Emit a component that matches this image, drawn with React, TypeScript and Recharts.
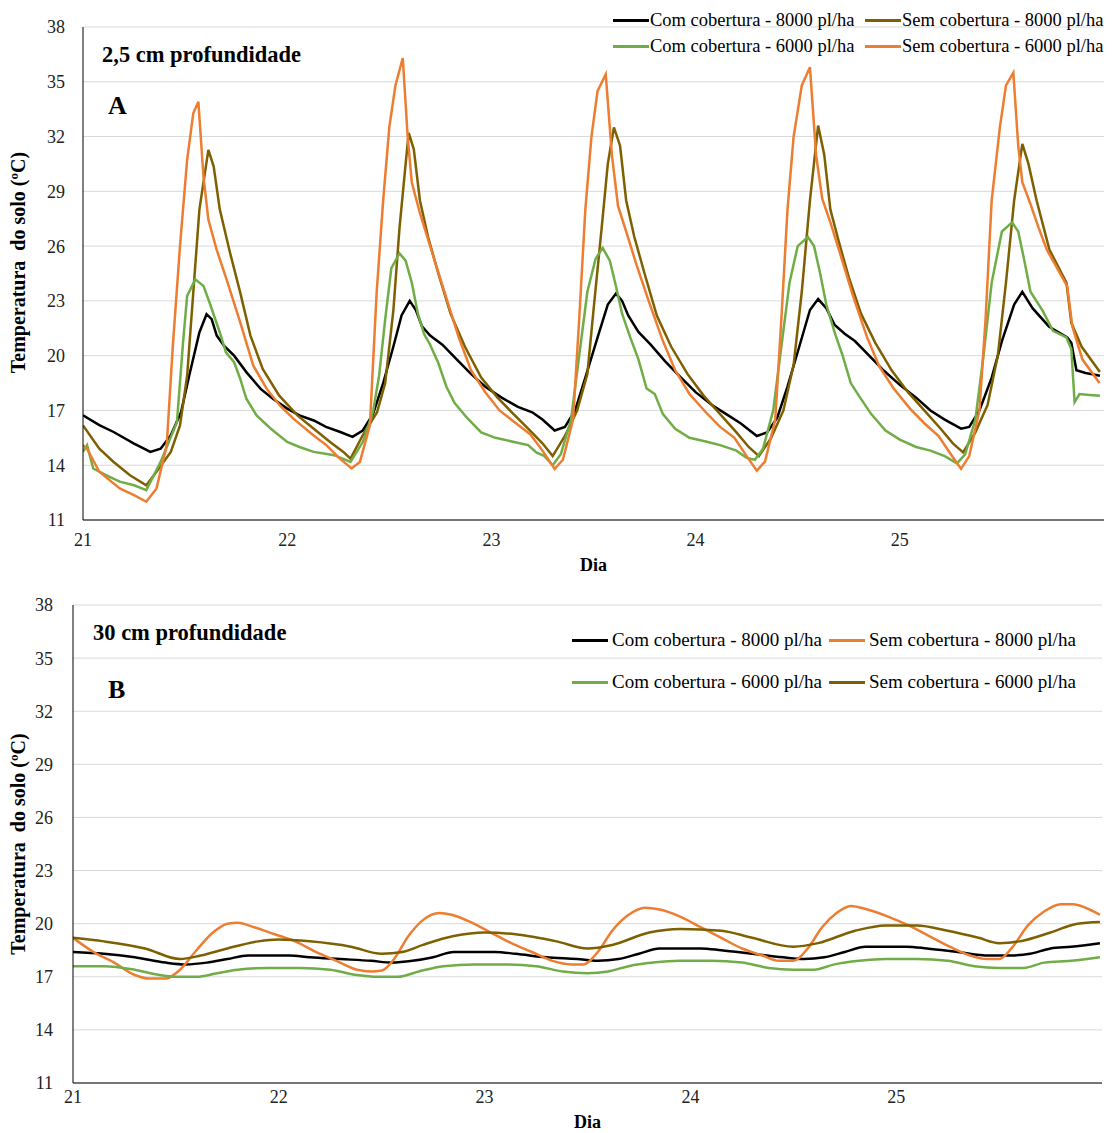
import React from 'react';
import { LineChart, Line, XAxis, YAxis, CartesianGrid, Legend } from 'recharts';

const FONT = '"Liberation Serif", "Times New Roman", serif';
const BLACK = '#000000';
const OLIVE = '#7f6000';
const GREEN = '#70ad47';
const ORANGE = '#ed7d31';

const dayTicks = [21, 22, 23, 24, 25];
const tempTicks = [11, 14, 17, 20, 23, 26, 29, 32, 35, 38];

const seriesNames = [
  'Com cobertura - 8000 pl/ha',
  'Sem cobertura - 8000 pl/ha',
  'Com cobertura - 6000 pl/ha',
  'Sem cobertura - 6000 pl/ha',
];

// ---------- Panel A : 2,5 cm depth  [day, °C] ----------
const topCom8000: [number, number][] = [
  [21.0,16.73],[21.08,16.2],[21.15,15.82],[21.25,15.18],[21.33,14.73],[21.38,14.9],[21.43,15.64],[21.48,16.9],[21.52,18.9],[21.57,21.27],[21.605,22.27],[21.63,22.0],[21.655,21.1],[21.69,20.55],[21.74,20.0],[21.8,19.1],[21.87,18.18],[21.93,17.64],[22.0,17.1],[22.06,16.73],[22.13,16.45],[22.19,16.1],[22.26,15.82],[22.32,15.55],
  [22.37,15.9],[22.42,16.8],[22.47,18.5],[22.52,20.5],[22.56,22.2],[22.6,23.0],[22.63,22.5],[22.66,21.6],[22.7,21.1],[22.76,20.6],[22.83,19.8],[22.9,19.0],[22.97,18.3],[23.05,17.7],[23.13,17.2],[23.2,16.9],[23.25,16.5],[23.31,15.9],
  [23.36,16.1],[23.41,17.0],[23.46,18.8],[23.52,21.0],[23.57,22.8],[23.61,23.4],[23.64,23.0],[23.67,22.2],[23.72,21.3],[23.78,20.6],[23.85,19.7],[23.92,18.9],[24.0,18.0],[24.08,17.3],[24.15,16.8],[24.22,16.3],[24.3,15.6],
  [24.35,15.8],[24.4,16.6],[24.45,18.3],[24.5,20.2],[24.56,22.5],[24.6,23.1],[24.64,22.6],[24.68,21.7],[24.73,21.2],[24.78,20.8],[24.85,20.0],[24.92,19.2],[25.0,18.4],[25.08,17.7],[25.15,17.0],[25.22,16.5],[25.3,16.0],
  [25.34,16.1],[25.39,17.0],[25.45,18.8],[25.5,20.8],[25.56,22.8],[25.6,23.5],[25.65,22.6],[25.73,21.6],[25.82,21.0],[25.84,20.7],[25.865,19.2],[25.91,19.05],[25.98,18.9],
];
const topSem8000: [number, number][] = [
  [21.0,16.18],[21.08,14.9],[21.15,14.18],[21.23,13.45],[21.31,12.9],[21.36,13.64],[21.43,14.73],[21.475,16.18],[21.51,18.9],[21.54,23.45],[21.57,28.0],[21.614,31.27],[21.64,30.36],[21.67,28.0],[21.72,25.64],[21.77,23.45],[21.82,21.1],[21.88,19.27],[21.96,17.82],[22.05,16.73],[22.13,16.0],[22.21,15.27],[22.275,14.73],[22.31,14.36],
  [22.37,15.64],[22.44,16.9],[22.48,18.5],[22.52,22.5],[22.55,27.0],[22.58,30.5],[22.595,32.2],[22.62,31.3],[22.65,28.5],[22.69,26.5],[22.74,24.5],[22.8,22.3],[22.87,20.5],[22.95,18.8],[23.03,17.7],[23.1,16.9],[23.18,16.0],[23.25,15.2],[23.3,14.5],
  [23.36,15.6],[23.42,17.0],[23.47,19.0],[23.5,22.5],[23.54,27.0],[23.57,30.5],[23.6,32.5],[23.63,31.5],[23.66,28.5],[23.7,26.5],[23.75,24.5],[23.81,22.2],[23.88,20.5],[23.96,19.0],[24.04,17.8],[24.12,16.8],[24.2,15.8],[24.26,15.0],[24.31,14.5],
  [24.37,15.5],[24.43,17.0],[24.48,19.5],[24.52,23.5],[24.56,28.5],[24.6,32.6],[24.63,31.0],[24.66,28.0],[24.7,26.3],[24.75,24.3],[24.81,22.3],[24.88,20.7],[24.96,19.2],[25.04,18.0],[25.12,17.0],[25.2,16.0],[25.26,15.2],[25.31,14.7],
  [25.37,15.8],[25.43,17.3],[25.48,20.0],[25.52,24.0],[25.56,28.5],[25.6,31.6],[25.63,30.5],[25.67,28.5],[25.733,25.8],[25.816,24.0],[25.84,21.8],[25.89,20.5],[25.98,19.1],
];
const topCom6000: [number, number][] = [
  [21.0,14.73],[21.02,15.1],[21.05,13.82],[21.13,13.36],[21.18,13.1],[21.25,12.9],[21.31,12.64],[21.38,14.18],[21.46,16.36],[21.49,20.73],[21.51,23.27],[21.55,24.18],[21.59,23.82],[21.62,22.9],[21.67,21.27],[21.7,20.18],[21.74,19.64],[21.77,18.73],[21.8,17.64],[21.85,16.73],[21.92,16.0],[22.0,15.27],[22.06,15.0],[22.13,14.73],[22.23,14.55],[22.31,14.18],
  [22.37,15.27],[22.42,16.9],[22.45,18.9],[22.48,22.0],[22.51,24.8],[22.55,25.6],[22.58,25.2],[22.61,24.0],[22.64,22.3],[22.67,21.2],[22.7,20.6],[22.74,19.6],[22.78,18.3],[22.82,17.4],[22.88,16.6],[22.95,15.8],[23.02,15.5],[23.1,15.3],[23.18,15.1],[23.22,14.7],[23.26,14.5],[23.3,14.0],
  [23.34,14.6],[23.39,16.5],[23.43,20.0],[23.47,23.5],[23.51,25.3],[23.545,25.9],[23.58,25.2],[23.61,23.8],[23.64,22.3],[23.68,21.0],[23.72,19.8],[23.76,18.2],[23.8,17.9],[23.84,16.8],[23.9,16.0],[23.97,15.5],[24.05,15.3],[24.12,15.1],[24.2,14.8],[24.25,14.4],[24.29,14.3],
  [24.33,14.9],[24.38,17.0],[24.42,20.5],[24.46,24.0],[24.5,26.0],[24.55,26.5],[24.58,26.0],[24.61,24.5],[24.64,22.8],[24.68,21.3],[24.72,20.0],[24.76,18.5],[24.8,17.8],[24.86,16.8],[24.93,15.9],[25.0,15.4],[25.08,15.0],[25.15,14.8],[25.22,14.5],[25.28,14.1],
  [25.32,14.6],[25.37,16.5],[25.41,20.0],[25.45,24.0],[25.5,26.8],[25.55,27.3],[25.58,26.8],[25.61,25.2],[25.64,23.5],[25.7,22.45],[25.75,21.36],[25.816,21.0],[25.84,20.36],[25.856,17.45],[25.88,17.9],[25.93,17.85],[25.98,17.8],
];
const topSem6000: [number, number][] = [
  [21.0,15.09],[21.02,14.9],[21.08,13.64],[21.18,12.73],[21.25,12.36],[21.31,12.0],[21.36,12.73],[21.41,15.09],[21.44,20.55],[21.475,26.0],[21.51,30.73],[21.54,33.27],[21.565,33.9],[21.59,29.8],[21.614,27.45],[21.654,25.82],[21.703,24.18],[21.77,21.82],[21.834,19.45],[21.9,18.18],[21.964,17.27],[22.03,16.55],[22.128,15.64],[22.193,15.09],[22.258,14.36],[22.315,13.82],
  [22.356,14.18],[22.405,16.18],[22.438,23.45],[22.47,28.5],[22.5,32.5],[22.53,34.8],[22.566,36.3],[22.59,32.0],[22.61,29.5],[22.65,27.8],[22.7,26.0],[22.77,23.5],[22.84,21.0],[22.9,19.2],[22.97,18.0],[23.04,17.0],[23.12,16.3],[23.19,15.7],[23.25,14.8],[23.31,13.8],
  [23.35,14.3],[23.4,16.5],[23.43,22.0],[23.46,28.0],[23.49,32.0],[23.52,34.5],[23.56,35.4],[23.59,31.0],[23.62,28.2],[23.66,26.8],[23.71,25.0],[23.77,23.0],[23.84,20.8],[23.9,19.2],[23.97,17.9],[24.05,16.9],[24.12,16.1],[24.19,15.5],[24.25,14.5],[24.3,13.7],
  [24.34,14.2],[24.39,16.5],[24.42,22.0],[24.45,28.0],[24.48,32.0],[24.52,34.8],[24.56,35.8],[24.59,31.0],[24.62,28.6],[24.66,27.3],[24.71,25.5],[24.77,23.3],[24.84,21.0],[24.9,19.4],[24.97,18.2],[25.05,17.1],[25.12,16.3],[25.19,15.6],[25.25,14.6],[25.3,13.8],
  [25.34,14.5],[25.39,17.0],[25.42,22.0],[25.45,28.5],[25.49,32.5],[25.52,34.8],[25.556,35.5],[25.58,31.5],[25.6,29.5],[25.64,28.3],[25.68,27.0],[25.72,25.8],[25.78,24.6],[25.82,23.8],[25.845,21.6],[25.894,19.8],[25.978,18.5],
];

// ---------- Panel B : 30 cm depth  [day, °C] ----------
const botCom8000: [number, number][] = [
  [21.0,18.4],[21.15,18.3],[21.3,18.1],[21.45,17.8],[21.55,17.7],[21.65,17.8],[21.75,18.0],[21.85,18.2],[21.95,18.2],[22.05,18.2],[22.15,18.1],[22.3,18.0],[22.45,17.9],[22.55,17.8],[22.65,17.9],[22.75,18.1],[22.85,18.4],[22.95,18.4],[23.05,18.4],[23.15,18.3],[23.3,18.1],[23.45,18.0],[23.55,17.9],[23.65,18.0],[23.75,18.3],[23.85,18.6],[23.95,18.6],[24.05,18.6],[24.15,18.5],[24.3,18.3],[24.45,18.1],[24.55,18.0],[24.65,18.1],[24.75,18.4],[24.85,18.7],[24.95,18.7],[25.05,18.7],[25.15,18.6],[25.3,18.4],[25.45,18.2],[25.55,18.2],[25.65,18.3],[25.75,18.6],[25.85,18.7],[25.99,18.9],
];
const botSem8000: [number, number][] = [
  [21.0,19.2],[21.1,18.4],[21.2,17.8],[21.3,17.1],[21.37,16.9],[21.45,16.9],[21.52,17.4],[21.6,18.5],[21.68,19.5],[21.75,20.0],[21.8,20.05],[21.88,19.8],[21.98,19.4],[22.08,19.0],[22.18,18.4],[22.28,17.9],[22.38,17.4],[22.45,17.3],[22.5,17.35],[22.56,18.0],[22.63,19.3],[22.7,20.2],[22.78,20.6],[22.84,20.5],[22.93,20.1],[23.03,19.5],[23.13,18.9],[23.23,18.4],[23.33,17.9],[23.42,17.7],[23.48,17.7],[23.55,18.4],[23.62,19.6],[23.7,20.5],[23.78,20.9],[23.85,20.8],[23.95,20.4],[24.05,19.8],[24.15,19.2],[24.25,18.6],[24.35,18.2],[24.43,17.9],[24.5,17.9],[24.57,18.6],[24.64,19.8],[24.71,20.6],[24.78,21.0],[24.86,20.8],[24.96,20.4],[25.06,19.9],[25.16,19.3],[25.26,18.7],[25.36,18.2],[25.44,18.0],[25.5,18.0],[25.56,18.6],[25.64,19.9],[25.72,20.7],[25.8,21.1],[25.86,21.1],[25.92,20.9],[25.99,20.5],
];
const botCom6000: [number, number][] = [
  [21.0,17.6],[21.15,17.6],[21.3,17.4],[21.42,17.1],[21.5,17.0],[21.6,17.0],[21.7,17.2],[21.8,17.4],[21.95,17.5],[22.1,17.5],[22.25,17.4],[22.38,17.1],[22.48,17.0],[22.58,17.0],[22.68,17.3],[22.8,17.6],[22.95,17.7],[23.1,17.7],[23.25,17.6],[23.38,17.3],[23.5,17.2],[23.6,17.3],[23.7,17.6],[23.82,17.8],[23.95,17.9],[24.1,17.9],[24.25,17.8],[24.38,17.5],[24.5,17.4],[24.6,17.4],[24.7,17.7],[24.82,17.9],[24.95,18.0],[25.1,18.0],[25.25,17.9],[25.38,17.6],[25.5,17.5],[25.62,17.5],[25.72,17.8],[25.85,17.9],[25.99,18.1],
];
const botSem6000: [number, number][] = [
  [21.0,19.2],[21.15,19.0],[21.35,18.6],[21.52,18.0],[21.62,18.2],[21.75,18.6],[21.9,19.0],[22.0,19.1],[22.15,19.0],[22.35,18.7],[22.5,18.3],[22.6,18.4],[22.7,18.8],[22.85,19.3],[23.0,19.5],[23.15,19.4],[23.35,19.0],[23.5,18.6],[23.62,18.8],[23.8,19.5],[23.95,19.7],[24.15,19.6],[24.3,19.2],[24.5,18.7],[24.62,18.9],[24.8,19.6],[24.95,19.9],[25.1,19.9],[25.25,19.6],[25.4,19.2],[25.5,18.9],[25.6,19.0],[25.75,19.5],[25.88,20.0],[25.99,20.1],
];

const toPoints = (arr: [number, number][]) => arr.map(([t, v]) => ({ t, v }));

type Series = { name: string; color: string; data: [number, number][] };

function makeLegend(items: Series[], itemWidth: number, rowHeight: number, gap: number, fontSize: number) {
  return () => (
    <div style={{ display: 'flex', flexWrap: 'wrap', width: itemWidth * 2, fontFamily: FONT, fontSize, color: '#000' }}>
      {items.map((s, i) => (
        <div key={i} style={{ width: itemWidth, height: rowHeight, display: 'flex', alignItems: 'center', whiteSpace: 'nowrap' }}>
          <span style={{ display: 'inline-block', width: 36, height: 3, background: s.color, marginRight: gap }} />
          <span>{s.name}</span>
        </div>
      ))}
    </div>
  );
}

function yTitle(shift: number) {
  return (props: any) => {
    const vb = props.viewBox || { x: 0, y: 0, height: 0 };
    const cx = vb.x + 18;
    const cy = vb.y + vb.height / 2 + shift;
    return (
      <text x={cx} y={cy} transform={`rotate(-90 ${cx} ${cy})`} textAnchor="middle" dominantBaseline="central"
        style={{ fontFamily: FONT, fontSize: 20, fontWeight: 'bold', whiteSpace: 'pre' }} fill="#000">
        {'Temperatura  do solo (ºC)'}
      </text>
    );
  };
}

function xTitle(offsetFromBottom: number) {
  return (props: any) => {
    const vb = props.viewBox || { x: 0, y: 0, width: 0, height: 0 };
    return (
      <text x={vb.x + vb.width / 2} y={vb.y + vb.height - offsetFromBottom} textAnchor="middle"
        style={{ fontFamily: FONT, fontSize: 18, fontWeight: 'bold' }} fill="#000">Dia</text>
    );
  };
}

const tickStyle = { fontFamily: FONT, fontSize: 18, fill: '#222' };

type Panel = {
  top: number; height: number; yAxisWidth: number; xAxisHeight: number;
  marginTop: number; marginRight: number; xTickMargin: number; yTickMargin: number;
  xTitleOffset: number; yTitleShift: number; series: Series[];
  legendPos: { top: number; left: number }; legendItemW: number; legendRowH: number; legendGap: number; legendFont: number;
  lineType: 'linear' | 'monotone';
  title: string; letter: string; titlePos: { left: number; top: number }; letterPos: { left: number; top: number };
};

const panels: Panel[] = [
  {
    top: 0, height: 580, yAxisWidth: 83, xAxisHeight: 60, marginTop: 27, marginRight: 11,
    xTickMargin: 13, yTickMargin: 18, xTitleOffset: 9, yTitleShift: -11,
    series: [
      { name: seriesNames[0], color: BLACK, data: topCom8000 },
      { name: seriesNames[1], color: OLIVE, data: topSem8000 },
      { name: seriesNames[2], color: GREEN, data: topCom6000 },
      { name: seriesNames[3], color: ORANGE, data: topSem6000 },
    ],
    legendPos: { top: 7, left: 613 }, legendItemW: 252, legendRowH: 26, legendGap: 1, legendFont: 18.5,
    lineType: 'linear',
    title: '2,5 cm profundidade', letter: 'A', titlePos: { left: 102, top: 42 }, letterPos: { left: 108, top: 92 },
  },
  {
    top: 580, height: 553, yAxisWidth: 73, xAxisHeight: 50, marginTop: 25, marginRight: 13,
    xTickMargin: 7, yTickMargin: 20, xTitleOffset: 5, yTitleShift: 0,
    series: [
      { name: seriesNames[0], color: BLACK, data: botCom8000 },
      { name: seriesNames[1], color: ORANGE, data: botSem8000 },
      { name: seriesNames[2], color: GREEN, data: botCom6000 },
      { name: seriesNames[3], color: OLIVE, data: botSem6000 },
    ],
    legendPos: { top: 39, left: 572 }, legendItemW: 257, legendRowH: 42, legendGap: 4, legendFont: 19,
    lineType: 'monotone',
    title: '30 cm profundidade', letter: 'B', titlePos: { left: 93, top: 620 }, letterPos: { left: 108, top: 676 },
  },
];

function PanelChart({ p }: { p: Panel }) {
  return (
    <div style={{ position: 'absolute', left: 0, top: p.top, width: 1115, height: p.height }}>
      <LineChart width={1115} height={p.height} margin={{ top: p.marginTop, right: p.marginRight, left: 0, bottom: 0 }}>
        <CartesianGrid vertical={false} stroke="#d9d9d9" strokeWidth={1} />
        <XAxis type="number" dataKey="t" domain={[21, 26]} ticks={dayTicks} allowDataOverflow
          height={p.xAxisHeight} tickLine={false} tickSize={0} tickMargin={p.xTickMargin}
          axisLine={{ stroke: '#000', strokeWidth: 1 }} tick={tickStyle} interval={0}
          label={{ content: xTitle(p.xTitleOffset) }} />
        <YAxis type="number" domain={[11, 38]} ticks={tempTicks} allowDataOverflow width={p.yAxisWidth}
          tickLine={false} tickSize={0} tickMargin={p.yTickMargin} axisLine={{ stroke: '#000', strokeWidth: 1 }}
          tick={tickStyle} interval={0} label={{ content: yTitle(p.yTitleShift) }} />
        <Legend verticalAlign="middle" align="center" layout="horizontal"
          wrapperStyle={{ top: p.legendPos.top, left: p.legendPos.left, width: p.legendItemW * 2 }}
          content={makeLegend(p.series, p.legendItemW, p.legendRowH, p.legendGap, p.legendFont)} />
        {p.series.map((s) => (
          <Line key={s.name} name={s.name} data={toPoints(s.data)} dataKey="v" type={p.lineType}
            stroke={s.color} strokeWidth={2.5} dot={false} activeDot={false} isAnimationActive={false} />
        ))}
      </LineChart>
      <div style={{ position: 'absolute', left: p.titlePos.left, top: p.titlePos.top - p.top, fontFamily: FONT, fontSize: 22.5, fontWeight: 'bold', lineHeight: '26px', whiteSpace: 'nowrap' }}>{p.title}</div>
      <div style={{ position: 'absolute', left: p.letterPos.left, top: p.letterPos.top - p.top, fontFamily: FONT, fontSize: 26, fontWeight: 'bold', lineHeight: '28px' }}>{p.letter}</div>
    </div>
  );
}

export default function App() {
  return (
    <div style={{ position: 'absolute', left: 0, top: 0, width: 1115, height: 1133, background: '#fff', overflow: 'hidden' }}>
      {panels.map((p, i) => <PanelChart key={i} p={p} />)}
    </div>
  );
}
